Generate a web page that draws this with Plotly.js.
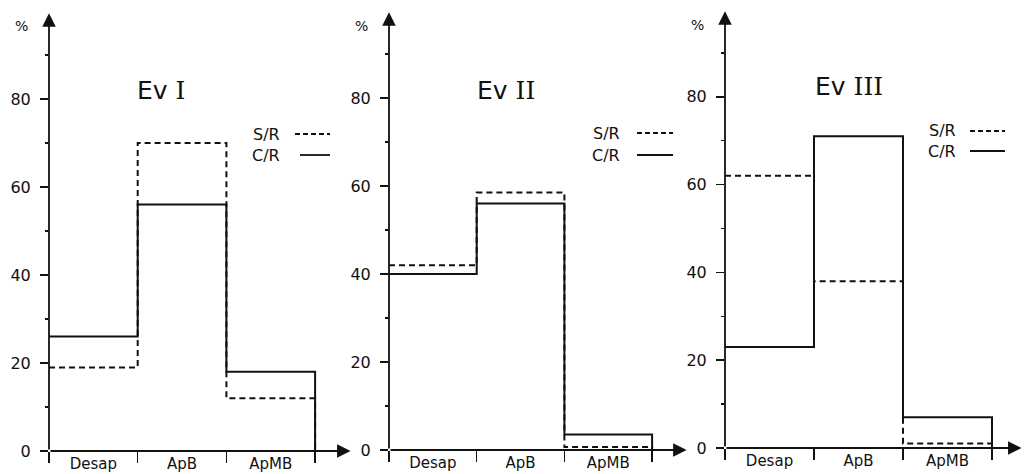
<!DOCTYPE html>
<html>
<head>
<meta charset="utf-8">
<script src="https://cdn.plot.ly/plotly-3.0.1.min.js"></script>
<style>html,body{margin:0;padding:0;background:#fff;}#chart{width:1026px;height:474px;}</style>
</head>
<body>
<div id="chart"></div>
<script>
// ---- data ----
const categories = ['Desap', 'ApB', 'ApMB'];
const panelNumerals = ['I', 'II', 'III'];
const seriesNames = ['S/R', 'C/R'];
const srEv1 = [19, 70, 12];
const crEv1 = [26, 56, 18];
const srEv2 = [42, 58.5, 0.7];
const crEv2 = [40, 56, 3.5];
const srEv3 = [62, 38, 1];
const crEv3 = [23, 71, 7];
const yTickVals = [0, 20, 40, 60, 80];
const yMinorVals = [10, 30, 50, 70, 90];

// ---- geometry (pixels) ----
const W = 1026, H = 474;
const panels = [
  {x0: 49, unit: 88.7, xEnd: 355, yZero: 451, yUnit: 4.40, sr: srEv1, cr: crEv1,
   title: [161, 90], pct: [21, 26], leg: {tx: 266, ly: [134, 155], lx: [[295, 330], [300, 330]]}},
  {x0: 389, unit: 87.7, xEnd: 691, yZero: 450, yUnit: 4.40, sr: srEv2, cr: crEv2,
   title: [506, 90], pct: [361, 26], leg: {tx: 606, ly: [133, 155], lx: [[637, 673], [637, 673]]}},
  {x0: 725, unit: 89.0, xEnd: 1026, yZero: 448, yUnit: 4.39, sr: srEv3, cr: crEv3,
   title: [849, 87], pct: [697, 25], leg: {tx: 942, ly: [131, 151], lx: [[970, 1005], [970, 1005]]}}
];

const ink = '#111';
const font = 'DejaVu Sans, Liberation Sans, sans-serif';
const traces = [];
const layout = {
  width: W, height: H,
  margin: {l: 0, r: 0, t: 0, b: 0},
  paper_bgcolor: '#fff', plot_bgcolor: 'rgba(0,0,0,0)',
  showlegend: false,
  annotations: [], shapes: []
};

const px = (x) => x / W;
const py = (y) => (H - y) / H;

panels.forEach((p, i) => {
  const n = i === 0 ? '' : String(i + 1);
  const xa = 'x' + n, ya = 'y' + n;
  const xRange = (p.xEnd - p.x0) / p.unit;
  const yTop = p.yZero - 100 * p.yUnit;
  const xpos = categories.map((c, k) => k).concat([categories.length]);

  layout['xaxis' + n] = {
    domain: [px(p.x0), px(p.xEnd)], range: [0, xRange], anchor: ya,
    showgrid: false, zeroline: false, showline: false,
    tickmode: 'array', tickvals: categories.map((c, k) => k + 0.5), ticktext: categories,
    ticks: '', ticklabelstandoff: 2,
    tickfont: {family: font, size: 15, color: ink},
    minor: {tickmode: 'array', tickvals: xpos, ticks: 'outside', ticklen: 11, tickwidth: 1.5, tickcolor: ink, showgrid: false},
    fixedrange: true
  };
  layout['yaxis' + n] = {
    domain: [py(p.yZero), py(yTop)], range: [0, 100], anchor: xa,
    showgrid: false, zeroline: false, showline: false,
    tickmode: 'array', tickvals: yTickVals,
    ticks: 'outside', ticklen: 8, tickwidth: 1.5, tickcolor: ink, ticklabelstandoff: 6,
    tickfont: {family: font, size: 16, color: ink},
    minor: {tickmode: 'array', tickvals: yMinorVals, ticks: 'outside', ticklen: 3, tickwidth: 1.5, tickcolor: ink, showgrid: false},
    fixedrange: true
  };

  // step lines
  [[p.sr, 'dash'], [p.cr, 'solid']].forEach(([vals, dash], s) => {
    traces.push({
      type: 'scatter', mode: 'lines', xaxis: xa, yaxis: ya,
      name: seriesNames[s],
      x: xpos, y: vals.concat([0]),
      line: {shape: 'hv', color: ink, width: 2, dash: dash === 'dash' ? '6px,4px' : 'solid'},
      cliponaxis: false, hoverinfo: 'skip'
    });
  });

  // axis arrows
  layout.annotations.push({
    xref: xa, yref: ya, axref: xa, ayref: ya,
    x: 0, y: 99.5, ax: 0, ay: 0, text: '', showarrow: true,
    arrowhead: 2, arrowsize: 1.5, arrowwidth: 1.8, arrowcolor: ink, standoff: 0, startstandoff: 0
  });
  layout.annotations.push({
    xref: xa, yref: ya, axref: xa, ayref: ya,
    x: xRange - 0.05, y: 0, ax: 0, ay: 0, text: '', showarrow: true,
    arrowhead: 2, arrowsize: 1.5, arrowwidth: 1.8, arrowcolor: ink, standoff: 0, startstandoff: 0
  });

  const common = {xref: 'paper', yref: 'paper', showarrow: false, xanchor: 'center', yanchor: 'middle'};
  // % label
  layout.annotations.push(Object.assign({}, common, {
    x: px(p.pct[0]), y: py(p.pct[1]), text: '%', font: {family: font, size: 14, color: ink}
  }));
  // panel title
  layout.annotations.push(Object.assign({}, common, {
    x: px(p.title[0]), y: py(p.title[1]),
    text: 'Ev <span style="font-family:DejaVu Serif">' + panelNumerals[i] + '</span>',
    font: {family: font, size: 25, color: ink}
  }));
  // legend
  seriesNames.forEach((name, s) => {
    layout.annotations.push(Object.assign({}, common, {
      x: px(p.leg.tx), y: py(p.leg.ly[s]), text: name, font: {family: font, size: 16, color: ink}
    }));
    layout.shapes.push({
      type: 'line', xref: 'paper', yref: 'paper',
      x0: px(p.leg.lx[s][0]), x1: px(p.leg.lx[s][1]), y0: py(p.leg.ly[s]), y1: py(p.leg.ly[s]),
      line: {color: ink, width: 1.8, dash: s === 0 ? '5px,3px' : 'solid'}
    });
  });
});

Plotly.newPlot('chart', traces, layout, {displayModeBar: false, staticPlot: true});
</script>
</body>
</html>
